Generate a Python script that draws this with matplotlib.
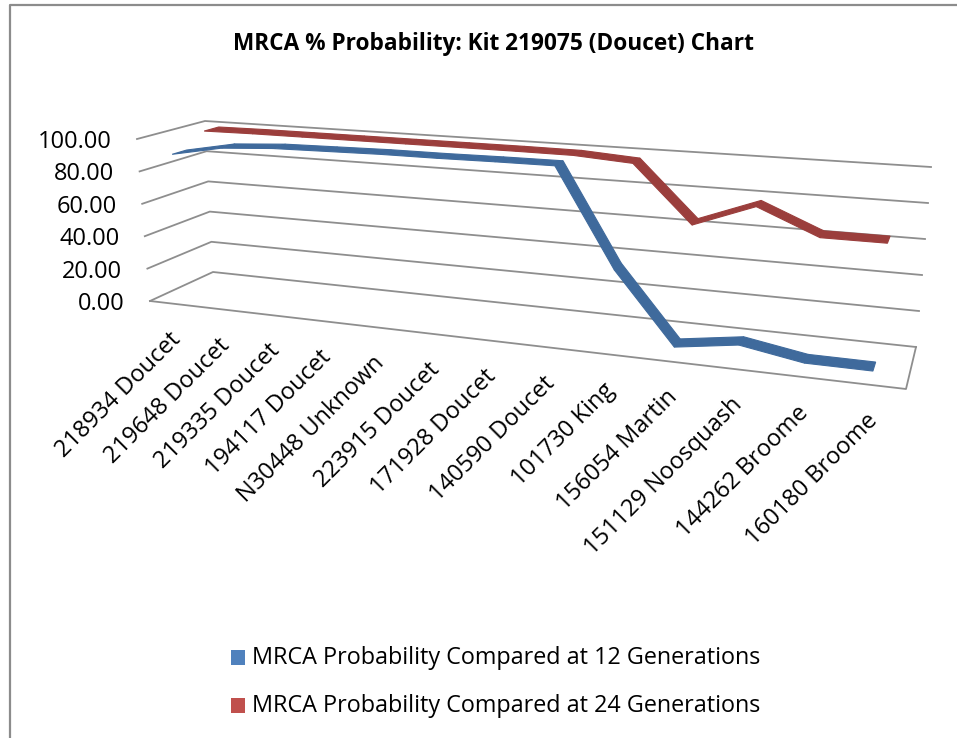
import numpy as np
import matplotlib
matplotlib.use("Agg")
import matplotlib.pyplot as plt
from matplotlib.patches import Rectangle

# ── Datos ─────────────────────────────────────────────────
kits = ["218934 Doucet", "219648 Doucet", "219335 Doucet", "194117 Doucet",
        "N30448 Unknown", "223915 Doucet", "171928 Doucet", "140590 Doucet",
        "101730 King", "156054 Martin", "151129 Noosquash", "144262 Broome",
        "160180 Broome"]
gen12 = [90, 96, 98, 98.5, 99, 99, 99.3, 99.4, 44, 5, 10, 4.3, 4.2]
gen24 = [98.7, 99, 99, 99, 99, 99, 99, 98.8, 96.5, 63.8, 77, 62.6, 62.6]
ticks = [0, 20, 40, 60, 80, 100]

titulo = "MRCA % Probability: Kit 219075 (Doucet) Chart"
nombre12 = "MRCA Probability Compared at 12 Generations"
nombre24 = "MRCA Probability Compared at 24 Generations"

C_BLUE = "#3f6a9c"
C_RED = "#9b3e3c"
C_GRID = "#8e8e8e"
FONT = "Open Sans"

# ── Caja 3D: esquinas en pixeles (frente/fondo, abajo/arriba, izq/der) ──
FBL = np.array([150.0, 301.0])
FBR = np.array([906.0, 389.0])
FTL = np.array([137.0, 139.0])
FTR = np.array([922.0, 194.0])
BBL = np.array([213.0, 272.0])
BBR = np.array([916.0, 347.0])
BTL = np.array([205.0, 121.0])
BTR = np.array([931.0, 167.0])
PERSP = 1.23


def proyectar(u, valor, z):
    t = u / (PERSP + (1 - PERSP) * u)
    h = valor / 100.0
    frente = (1 - h) * ((1 - t) * FBL + t * FBR) + h * ((1 - t) * FTL + t * FTR)
    fondo = (1 - h) * ((1 - t) * BBL + t * BBR) + h * ((1 - t) * BTL + t * BTR)
    return (1 - z) * frente + z * fondo


def cinta(ax, valores, z, color, ancho=0.11):
    n = len(valores)
    for i in range(n - 1):
        u0 = (i + 0.5) / n
        u1 = (i + 1.5) / n
        quad = np.array([
            proyectar(u0, valores[i], z - ancho),
            proyectar(u1, valores[i + 1], z - ancho),
            proyectar(u1, valores[i + 1], z + ancho),
            proyectar(u0, valores[i], z + ancho),
        ])
        ax.fill(quad[:, 0], quad[:, 1], color=color, lw=0.8, zorder=3)


fig = plt.figure(figsize=(9.57, 7.38), dpi=100, facecolor="white")
ax = fig.add_axes([0, 0, 1, 1])
ax.set_xlim(0, 957)
ax.set_ylim(738, 0)
ax.axis("off")

# Marco
ax.plot([10, 10, 957], [738, 5, 5], color="#8c8c8c", lw=1.6, zorder=1)

# Rejilla: pared izquierda y pared del fondo
for v in ticks:
    p0 = proyectar(0, v, 0)
    p1 = proyectar(0, v, 1)
    p2 = proyectar(1, v, 1)
    ax.plot([p0[0], p1[0], p2[0]], [p0[1], p1[1], p2[1]],
            color=C_GRID, lw=1.3, zorder=2)
    ax.text(p0[0] - 25, p0[1] + 3, f"{v:.2f}", ha="right", va="center",
            fontsize=17, family=FONT, color="black")

# Piso
esq = np.array([proyectar(0, 0, 0), proyectar(1, 0, 0), proyectar(1, 0, 1)])
ax.plot(esq[:, 0], esq[:, 1], color=C_GRID, lw=1.3, zorder=2)

# Series
cinta(ax, gen24, 0.75, C_RED)
cinta(ax, gen12, 0.25, C_BLUE)

# Etiquetas de categoria
for i, k in enumerate(kits):
    u = (i + 0.5) / len(kits)
    p = proyectar(u, 0, 0)
    ax.text(p[0] - 5, p[1] + 24, k, rotation=45, rotation_mode="anchor",
            ha="right", va="top", fontsize=17, family=FONT, color="black")

# Titulo
ax.text(493, 44, titulo, ha="center", va="center", fontsize=16.3,
        fontweight="bold", family=FONT, color="black")

# Leyenda
for y, c, nombre in [(657.5, "#4f81bd", nombre12), (705.5, "#c0504d", nombre24)]:
    ax.add_patch(Rectangle((231, y - 7.5), 14, 15, color=c, lw=0))
    ax.text(252, y + 1, nombre, ha="left", va="center", fontsize=16.8,
            family=FONT, color="black")

fig.savefig("out.png", dpi=100, facecolor="white")
